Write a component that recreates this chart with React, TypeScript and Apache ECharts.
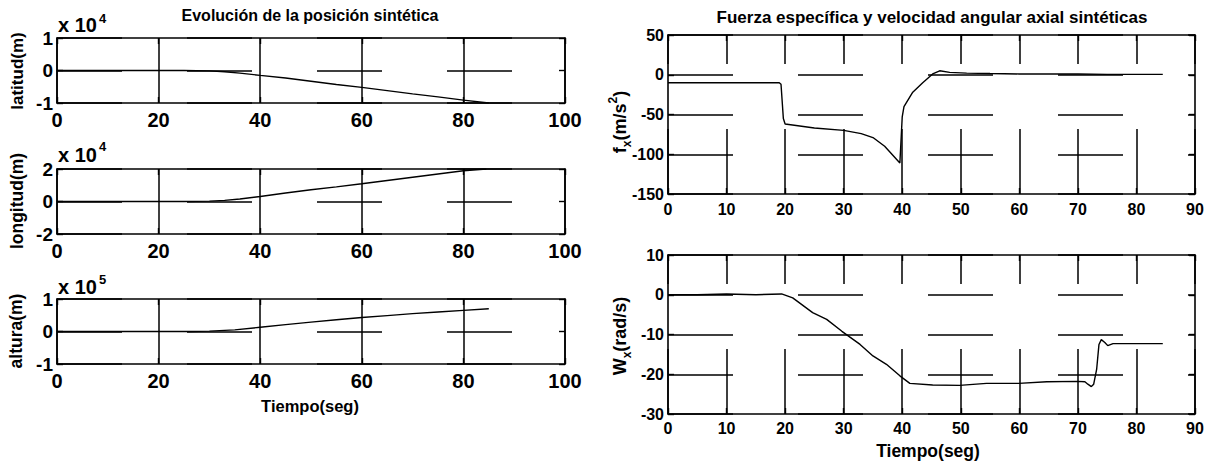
import React, { useEffect, useRef } from "react";
import * as echarts from "echarts";

// ---- data ----
const latT = [0, 10, 20, 25, 30, 33, 36, 40, 45, 50, 55, 60, 65, 70, 75, 80, 85];
const latV = [0, 0, 0, 0, -0.01, -0.04, -0.08, -0.15, -0.23, -0.33, -0.43, -0.52, -0.62, -0.72, -0.81, -0.91, -1.0];

const lonT = [0, 10, 20, 25, 30, 33, 36, 40, 45, 50, 55, 60, 65, 70, 75, 80, 84.5];
const lonV = [0, 0, 0, 0, 0.02, 0.07, 0.15, 0.31, 0.52, 0.72, 0.9, 1.09, 1.29, 1.49, 1.69, 1.89, 2.0];

const altT = [0, 10, 20, 26, 30, 35, 40, 45, 50, 55, 60, 65, 70, 75, 80, 85];
const altV = [0, 0, 0, 0, 0.01, 0.05, 0.13, 0.21, 0.29, 0.36, 0.43, 0.49, 0.55, 0.6, 0.65, 0.7];

const fxT = [0, 5, 10, 15, 19, 19.3, 19.7, 20, 25, 30, 33, 35, 37, 39.6, 40, 40.3, 41.8, 43.5, 45.2, 46.4, 48.1, 51, 55, 60, 65, 70, 75, 80, 84.5];
const fxV = [-10, -10, -10, -10, -10, -12, -55, -62, -67, -70, -74, -79, -90, -111, -53, -40, -22, -10, 1, 5, 3, 2, 1.5, 1, 1, 1, 0.5, 0.5, 0.5];

const wxT = [0, 5, 10, 15, 19.4, 21.3, 24.7, 27.1, 29.7, 32.8, 35, 37.3, 39.6, 41.3, 45.2, 49.8, 54.4, 59.9, 64.7, 70, 71.2, 71.7, 72.3, 72.7, 73.2, 73.6, 74, 74.6, 75.1, 76, 80, 84.5];
const wxV = [0, 0, 0.2, 0, 0.2, -0.8, -4.5, -6.2, -9.2, -12.5, -15.4, -17.5, -20.4, -22.3, -22.7, -22.8, -22.3, -22.3, -21.9, -21.8, -21.9, -22.5, -23.1, -22.5, -18.8, -12.5, -11.3, -12, -12.8, -12.3, -12.3, -12.3];

// axis ranges
const leftX = { min: 0, max: 100, interval: 20 };
const rightX = { min: 0, max: 90, interval: 10 };
const latY = { min: -1, max: 1, interval: 1 };
const lonY = { min: -2, max: 2, interval: 2 };
const altY = { min: -1, max: 1, interval: 1 };
const fxY = { min: -150, max: 50, interval: 50 };
const wxY = { min: -30, max: 10, interval: 10 };

const titles = ["Evolución de la posición sintética", "Fuerza específica y velocidad angular axial sintéticas"];
const xName = "Tiempo(seg)";

const FONT = "'Liberation Sans', Arial, Helvetica, sans-serif";
const INK = "#000";

type Rng = { min: number; max: number; interval: number };

function axesFor(
  gi: number,
  xr: Rng,
  yr: Rng,
  xLabelSize: number,
  yLabelSize: number,
  xMargin: number,
  vDash: number[] | "solid",
  vOffset: number
) {
  const frame = { show: true, onZero: false, lineStyle: { color: INK, width: 1.6 } };
  const tick = { show: true, inside: true, length: 6, lineStyle: { color: INK, width: 1.4 } };
  const lbl = (size: number, margin: number) => ({
    show: true,
    fontSize: size,
    fontFamily: FONT,
    fontWeight: "bold" as const,
    color: INK,
    margin,
  });
  const xs = [
    {
      type: "value",
      gridIndex: gi,
      position: "bottom",
      ...xr,
      axisLine: frame,
      axisTick: tick,
      axisLabel: lbl(xLabelSize, xMargin),
      splitLine: {
        show: true,
        lineStyle: { color: INK, width: 1.5, type: vDash, dashOffset: vOffset },
      },
    },
    {
      type: "value",
      gridIndex: gi,
      position: "top",
      ...xr,
      axisLine: frame,
      axisTick: tick,
      axisLabel: { show: false },
      splitLine: { show: false },
    },
  ];
  const ys = [
    {
      type: "value",
      gridIndex: gi,
      position: "left",
      ...yr,
      axisLine: frame,
      axisTick: tick,
      axisLabel: lbl(yLabelSize, 4),
      splitLine: {
        show: true,
        lineStyle: { color: INK, width: 1.5, type: [65, 65], dashOffset: 0 },
      },
    },
    {
      type: "value",
      gridIndex: gi,
      position: "right",
      ...yr,
      axisLine: frame,
      axisTick: tick,
      axisLabel: { show: false },
      splitLine: { show: false },
    },
  ];
  return { xs, ys };
}

function lineSeries(gi: number, T: number[], V: number[]) {
  return {
    type: "line",
    xAxisIndex: gi * 2,
    yAxisIndex: gi * 2,
    data: T.map((t, i) => [t, V[i]]),
    showSymbol: false,
    symbol: "none",
    silent: true,
    z: 5,
    lineStyle: { color: INK, width: 1.4 },
  };
}

export default function App() {
  const ref = useRef<HTMLDivElement>(null);
  useEffect(() => {
    document.body.style.margin = "0";
    const chart = echarts.init(ref.current!, undefined, { renderer: "svg" });

    const grids = [
      { left: 57, top: 38, width: 508, height: 65 },
      { left: 57, top: 169, width: 508, height: 65 },
      { left: 57, top: 299, width: 508, height: 65 },
      { left: 668, top: 35, width: 527, height: 159 },
      { left: 668, top: 255, width: 527, height: 159 },
    ];
    const a = [
      axesFor(0, leftX, latY, 20, 19, 7, "solid", 0),
      axesFor(1, leftX, lonY, 20, 19, 7, "solid", 0),
      axesFor(2, leftX, altY, 20, 19, 7, "solid", 0),
      axesFor(3, rightX, fxY, 16, 16, 7, [65, 65], 36),
      axesFor(4, rightX, wxY, 16, 16, 6, [65, 65], 36),
    ];

    const txt = (x: number, y: number, text: string, size: number, extra: any = {}) => ({
      type: "text",
      x,
      y,
      silent: true,
      style: {
        text,
        fontSize: size,
        fontFamily: FONT,
        fontWeight: "bold",
        fill: INK,
        align: "center",
        verticalAlign: "middle",
        ...extra,
      },
    });
    const vtxt = (x: number, y: number, text: string, size: number, extra: any = {}) => ({
      ...txt(x, y, text, size, extra),
      rotation: Math.PI / 2,
    });

    const subRich = {
      a: { fontSize: 18, lineHeight: 26, fill: INK, fontFamily: FONT, fontWeight: "bold", verticalAlign: "middle" },
      b: { fontSize: 12, lineHeight: 12, fill: INK, fontFamily: FONT, fontWeight: "bold", verticalAlign: "bottom" },
      c: { fontSize: 12, lineHeight: 12, fill: INK, fontFamily: FONT, fontWeight: "bold", verticalAlign: "top" },
    };

    const graphic = [
      txt(310, 15, titles[0], 16),
      txt(932, 17, titles[1], 17),
      vtxt(17, 71, "latitud(m)", 17),
      vtxt(17, 201, "longitud(m)", 17.5),
      vtxt(16, 331, "altura(m)", 17.5),
      vtxt(620, 122, "{a|f}{b|x}{a|(m/s}{c|2}{a|)}", 18, { rich: subRich }),
      vtxt(620, 336, "{a|W}{b|x}{a|(rad/s)}", 18, { rich: subRich }),
      txt(58, 25, "x 10", 20, { align: "left" }),
      txt(99, 18, "4", 13, { align: "left" }),
      txt(58, 155, "x 10", 20, { align: "left" }),
      txt(99, 146, "4", 13, { align: "left" }),
      txt(58, 287, "x 10", 20, { align: "left" }),
      txt(99, 279, "5", 13, { align: "left" }),
      txt(310, 406, xName, 16.5),
      txt(928, 451, xName, 17.5),
    ];

    chart.setOption({
      animation: false,
      backgroundColor: "#fff",
      grid: grids,
      xAxis: a.flatMap((g) => g.xs),
      yAxis: a.flatMap((g) => g.ys),
      series: [
        lineSeries(0, latT, latV),
        lineSeries(1, lonT, lonV),
        lineSeries(2, altT, altV),
        lineSeries(3, fxT, fxV),
        lineSeries(4, wxT, wxV),
      ],
      graphic,
    });
    return () => chart.dispose();
  }, []);
  return <div ref={ref} style={{ width: 1210, height: 463, background: "#fff" }} />;
}
